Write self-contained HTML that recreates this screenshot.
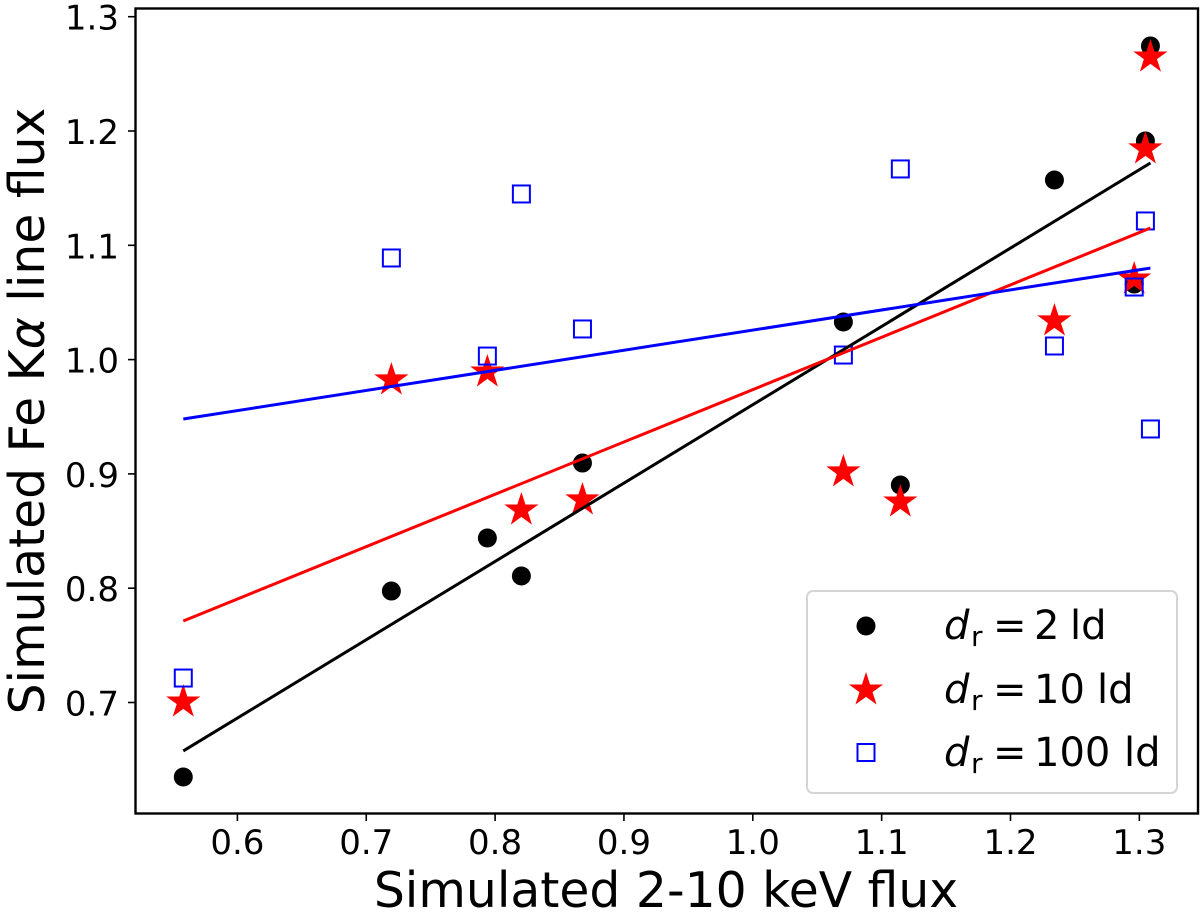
<!DOCTYPE html>
<html>
<head>
<meta charset="utf-8">
<title>Simulated Fe K-alpha line flux vs 2-10 keV flux</title>
<style>
html,body{margin:0;padding:0;background:#fff;width:1200px;height:913px;overflow:hidden}
svg{display:block;font-family:"DejaVu Sans","Liberation Sans",sans-serif;fill:#000}
</style>
</head>
<body>
<svg id="chart" width="1200" height="913" viewBox="0 0 1200 913" xmlns="http://www.w3.org/2000/svg">
  <rect x="135.5" y="8.5" width="1062.5" height="805" fill="#fff"/>
  <g id="ticks"></g>
  <g id="marks"></g>
  <rect x="135.5" y="8.5" width="1062.5" height="805" fill="none" stroke="#000" stroke-width="2.4"/>
  <text x="666" y="907" font-size="48.8" text-anchor="middle">Simulated 2-10 keV flux</text>
  <text transform="translate(44,411) rotate(-90)" font-size="48.8" text-anchor="middle">Simulated Fe K<tspan font-style="italic">α</tspan> line flux</text>
  <g>
    <rect x="807" y="591" width="370" height="202" rx="6" ry="6" fill="#fff" fill-opacity="0.8" stroke="#d4d4d4" stroke-width="2"/>
    <g id="legend-markers"></g>
    <text font-size="40" y="639"><tspan x="944" font-style="italic">d</tspan><tspan x="971" y="646" font-size="28">r</tspan><tspan x="993" y="639">=</tspan><tspan x="1034">2</tspan><tspan x="1070">ld</tspan></text>
    <text font-size="40" y="703"><tspan x="944" font-style="italic">d</tspan><tspan x="971" y="710" font-size="28">r</tspan><tspan x="993" y="703">=</tspan><tspan x="1034">10</tspan><tspan x="1097">ld</tspan></text>
    <text font-size="40" y="766"><tspan x="944" font-style="italic">d</tspan><tspan x="971" y="773" font-size="28">r</tspan><tspan x="993" y="766">=</tspan><tspan x="1034">100</tspan><tspan x="1124">ld</tspan></text>
  </g>
</svg>
<script>
const xTickLabels = ["0.6","0.7","0.8","0.9","1.0","1.1","1.2","1.3"];
const yTickLabels = ["0.7","0.8","0.9","1.0","1.1","1.2","1.3"];
const continuumFlux = [0.558,0.7195,0.794,0.8204,0.8678,1.0703,1.1145,1.2341,1.296,1.3047,1.3086];
const lineFlux2ld = [0.6348,0.7975,0.8439,0.8107,0.9095,1.0329,0.8903,1.1571,1.0661,1.1913,1.2744];
const lineFlux10ld = [0.7004,0.9822,0.9891,0.8684,0.8772,0.9017,0.8754,1.0338,1.0705,1.1843,1.2647];
const lineFlux100ld = [0.7214,1.0889,1.0031,1.1449,1.0268,1.004,1.1668,1.0119,1.0635,1.1213,0.9393];
const fitX = [0.558,1.3086];
const fit2ld = [0.6576,1.172];
const fit10ld = [0.7713,1.1151];
const fit100ld = [0.948,1.0801];

const NS = "http://www.w3.org/2000/svg";
const xScale = v => 237.4 + (v - 0.6) * 1288.5;
const yScale = v => 16.7 + (1.3 - v) * 1143;
const ticksG = document.getElementById("ticks");
const marksG = document.getElementById("marks");
const legendG = document.getElementById("legend-markers");

function make(tag, attrs, parent) {
  const el = document.createElementNS(NS, tag);
  for (const k in attrs) el.setAttribute(k, attrs[k]);
  parent.appendChild(el);
  return el;
}
function starPoints(cx, cy, R) {
  const r = R * 0.382;
  const pts = [];
  for (let i = 0; i < 10; i++) {
    const a = -Math.PI / 2 + i * Math.PI / 5;
    const rad = i % 2 ? r : R;
    pts.push((cx + rad * Math.cos(a)).toFixed(2) + "," + (cy + rad * Math.sin(a)).toFixed(2));
  }
  return pts.join(" ");
}
function drawCircle(cx, cy, parent) {
  const el = make("circle", {cx: cx, cy: cy, r: 9.5, fill: "#000"}, parent);
  
  
}
function drawStar(cx, cy, parent) {
  const el = make("polygon", {points: starPoints(cx, cy, 18), fill: "#f00"}, parent);
  
  
}
function drawSquare(cx, cy, parent) {
  const el = make("rect", {x: cx - 8.5, y: cy - 8.5, width: 17, height: 17, fill: "none", stroke: "#00f", "stroke-width": 2}, parent);
  
  
}

xTickLabels.forEach(label => {
  const v = parseFloat(label), x = xScale(v);
  const t = make("line", {x1: x, x2: x, y1: 813.5, y2: 821, stroke: "#000", "stroke-width": 1.6}, ticksG);
  
  
  const s = make("text", {x: x, y: 854, "font-size": 34, "text-anchor": "middle"}, ticksG);
  
  
  s.textContent = label;
});
yTickLabels.forEach(label => {
  const v = parseFloat(label), y = yScale(v);
  const t = make("line", {x1: 128, x2: 135.5, y1: y, y2: y, stroke: "#000", "stroke-width": 1.6}, ticksG);
  
  
  const s = make("text", {x: 119, y: y + 13, "font-size": 34, "text-anchor": "end"}, ticksG);
  
  
  s.textContent = label;
});

continuumFlux.forEach((x, i) => drawCircle(xScale(x), yScale(lineFlux2ld[i]), marksG));
continuumFlux.forEach((x, i) => drawStar(xScale(x), yScale(lineFlux10ld[i]), marksG));
continuumFlux.forEach((x, i) => drawSquare(xScale(x), yScale(lineFlux100ld[i]), marksG));

function drawFit(values, color, name) {
  const el = make("line", {x1: xScale(fitX[0]), y1: yScale(values[0]), x2: xScale(fitX[1]), y2: yScale(values[1]), stroke: color, "stroke-width": 3}, marksG);
  
  
}
drawFit(fit2ld, "#000", "fit-line-2-ld");
drawFit(fit10ld, "#f00", "fit-line-10-ld");
drawFit(fit100ld, "#00f", "fit-line-100-ld");

drawCircle(866, 626, legendG);
drawStar(866, 690, legendG);
drawSquare(866, 752.5, legendG);
</script>
</body>
</html>
